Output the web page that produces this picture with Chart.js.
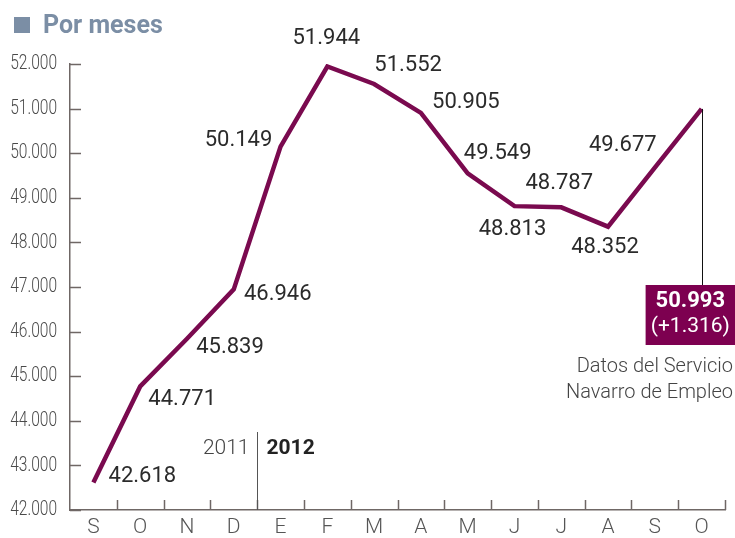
<!DOCTYPE html>
<html lang="es">
<head>
<meta charset="UTF-8">
<title>Por meses</title>
<script src="https://cdn.jsdelivr.net/npm/chart.js"></script>
<style>
  html, body { margin: 0; padding: 0; background: #fff; }
  #grafico { display: block; }
</style>
</head>
<body>
<canvas id="grafico" width="735" height="538"></canvas>
<script>
// datos (paro registrado, Navarra)
const meses = ['S', 'O', 'N', 'D', 'E', 'F', 'M', 'A', 'M', 'J', 'J', 'A', 'S', 'O'];
const parados = [42618, 44771, 45839, 46946, 50149, 51944, 51552, 50905, 49549, 48813, 48787, 48352, 49677, 50993];
const ejeMin = 42000;
const ejeMax = 52000;
const paso = 1000;
const ultimoDato = '50.993';
const variacion = '(+1.316)';
const anios = ['2011', '2012'];
const titulo = 'Por meses';
const fuente = ['Datos del Servicio', 'Navarro de Empleo'];

// desplazamiento de cada etiqueta respecto a su punto (px)
const desplaz = [
  [49, -6], [42, 13], [43, 9], [44, 5], [-42, -6], [-1, -28], [34, -18],
  [45, -10], [30, -20], [-2, 23], [-2, -24], [-3, 21], [-32, -22], null
];

const granate = '#7a0a4f';
const ejeColor = '#6f6765';

function miles(v) {
  return String(Math.round(v)).replace(/\B(?=(\d{3})+(?!\d))/g, '.');
}

const extras = {
  id: 'extras',
  afterDraw(chart) {
    const ctx = chart.ctx;
    const x = chart.scales.x, y = chart.scales.y;
    const area = chart.chartArea;
    ctx.save();

    // titulo
    ctx.fillStyle = '#7b8ea5';
    ctx.fillRect(14, 17, 16, 16);
    ctx.font = 'bold 25px Roboto, sans-serif';
    ctx.textBaseline = 'alphabetic';
    ctx.textAlign = 'left';
    ctx.fillText(titulo, 43, 33);

    // etiquetas del eje Y (letra estrecha)
    ctx.fillStyle = '#4a4a4a';
    ctx.font = '300 21px Roboto, sans-serif';
    ctx.textAlign = 'right';
    ctx.textBaseline = 'middle';
    y.ticks.forEach((t, i) => {
      const py = y.getPixelForTick(i);
      ctx.save();
      ctx.translate(57, py);
      ctx.scale(0.74, 1);
      ctx.fillText(miles(t.value), 0, 0);
      ctx.restore();
    });

    // marcas del eje Y (hacia dentro)
    ctx.strokeStyle = ejeColor;
    ctx.lineWidth = 1.5;
    y.ticks.forEach((t, i) => {
      const py = Math.round(y.getPixelForTick(i)) + 0.5;
      ctx.beginPath();
      ctx.moveTo(area.left, py);
      ctx.lineTo(area.left + 11, py);
      ctx.stroke();
    });
    // marcas del eje X (entre meses, hacia arriba)
    for (let i = 0; i < meses.length; i++) {
      const px = Math.round(x.getPixelForValue(i + 0.5)) + 0.5;
      ctx.beginPath();
      ctx.moveTo(px, area.bottom);
      ctx.lineTo(px, area.bottom - 10);
      ctx.stroke();
    }

    // separador de años
    const sep = Math.round(x.getPixelForValue(3.5)) + 0.5;
    ctx.lineWidth = 1;
    ctx.strokeStyle = '#555';
    ctx.beginPath();
    ctx.moveTo(sep, 432);
    ctx.lineTo(sep, area.bottom);
    ctx.stroke();
    ctx.textBaseline = 'middle';
    ctx.fillStyle = '#444';
    ctx.font = '300 21px Roboto, sans-serif';
    ctx.textAlign = 'right';
    ctx.fillText(anios[0], sep - 8, 449);
    ctx.fillStyle = '#222';
    ctx.font = 'bold 21px Roboto, sans-serif';
    ctx.textAlign = 'left';
    ctx.fillText(anios[1], sep + 9, 449);

    // etiquetas de valores
    const meta = chart.getDatasetMeta(0);
    ctx.font = '22px Roboto, sans-serif';
    ctx.fillStyle = '#2b2b2b';
    ctx.textAlign = 'center';
    meta.data.forEach((p, i) => {
      const d = desplaz[i];
      if (!d) return;
      ctx.fillText(miles(parados[i]), p.x + d[0], p.y + d[1]);
    });

    // último dato destacado
    const ult = meta.data[meta.data.length - 1];
    const boxTop = 285, boxBot = 345, boxL = ult.x - 56, boxR = chart.width;
    ctx.strokeStyle = '#111';
    ctx.lineWidth = 1;
    ctx.beginPath();
    ctx.moveTo(Math.round(ult.x) + 0.5, ult.y);
    ctx.lineTo(Math.round(ult.x) + 0.5, boxTop);
    ctx.stroke();
    ctx.fillStyle = '#7d0050';
    ctx.fillRect(boxL, boxTop, boxR - boxL, boxBot - boxTop);
    ctx.fillStyle = '#fff';
    const cx = (boxL + boxR) / 2;
    ctx.font = 'bold 22px Roboto, sans-serif';
    ctx.fillText(ultimoDato, cx, 301);
    ctx.font = '21px Roboto, sans-serif';
    ctx.fillText(variacion, cx, 327);

    // fuente
    ctx.fillStyle = '#444';
    ctx.font = '300 20px Roboto, sans-serif';
    ctx.textAlign = 'right';
    ctx.fillText(fuente[0], 733, 367);
    ctx.fillText(fuente[1], 733, 393);

    ctx.restore();
  }
};

new Chart(document.getElementById('grafico'), {
  type: 'line',
  data: {
    labels: meses,
    datasets: [{
      data: parados,
      borderColor: granate,
      borderWidth: 4.5,
      pointRadius: 0,
      tension: 0,
      fill: false
    }]
  },
  options: {
    responsive: false,
    animation: false,
    devicePixelRatio: 1,
    layout: { padding: { top: 64, right: 10, left: 0, bottom: 0 } },
    plugins: {
      legend: { display: false },
      tooltip: { enabled: false }
    },
    scales: {
      x: {
        offset: true,
        grid: { display: false, drawTicks: false },
        border: { display: true, color: ejeColor, width: 1.5 },
        ticks: {
          color: '#555',
          padding: 5,
          maxRotation: 0,
          autoSkip: false,
          font: { family: 'Roboto', size: 21, weight: '300' }
        },
        afterFit(s) { s.height = 28; }
      },
      y: {
        min: ejeMin,
        max: ejeMax,
        grid: { display: false, drawTicks: false },
        border: { display: true, color: ejeColor, width: 1.5 },
        ticks: {
          display: false,
          stepSize: paso
        },
        afterFit(s) { s.width = 70; }
      }
    }
  },
  plugins: [extras]
});
</script>
</body>
</html>
